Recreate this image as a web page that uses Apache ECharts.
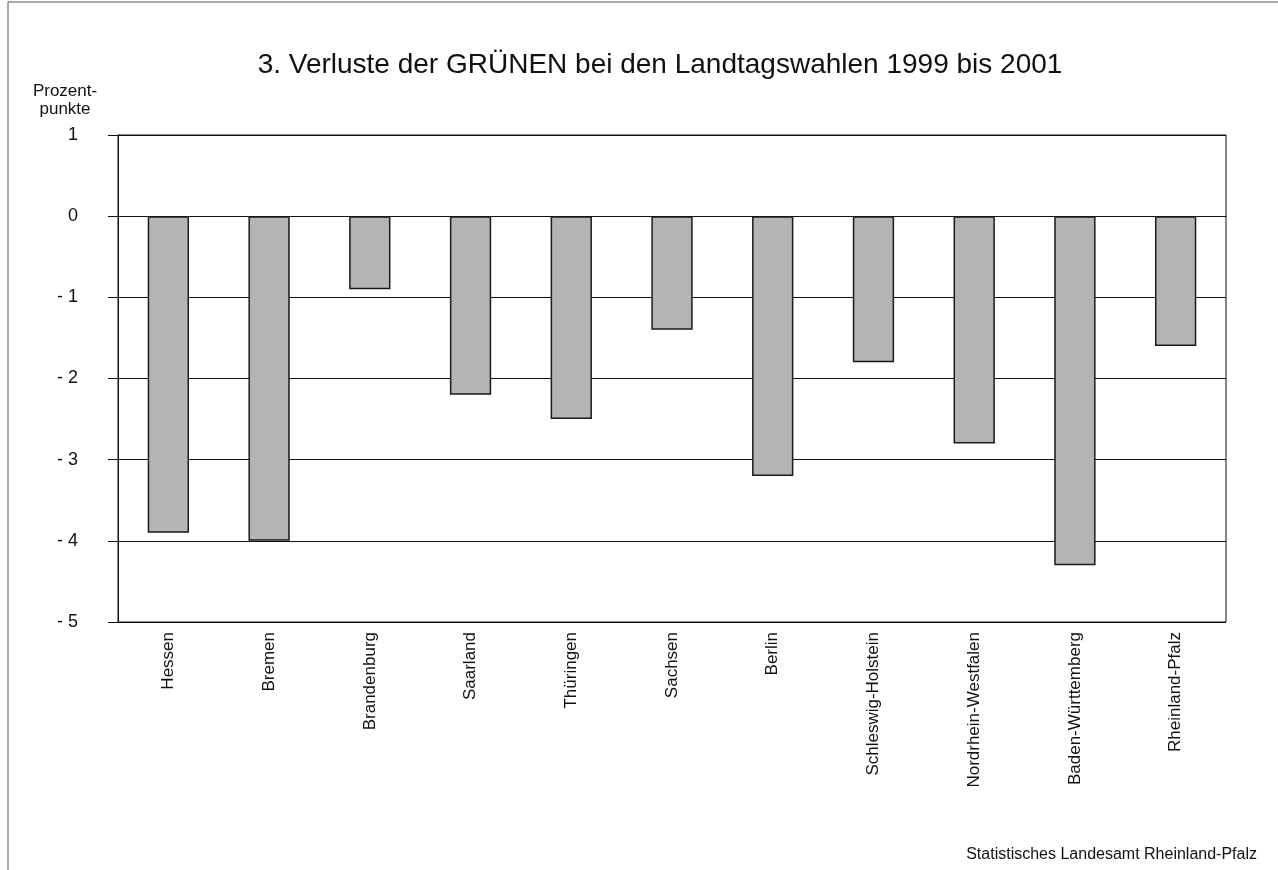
<!DOCTYPE html>
<html><head><meta charset="utf-8">
<script src="https://cdn.jsdelivr.net/npm/echarts@6/dist/echarts.min.js"></script>
<style>html,body{margin:0;padding:0;background:#fff}#c{width:1278px;height:870px}</style>
</head><body><div id="c"></div>
<script>
const categories = ['Hessen','Bremen','Brandenburg','Saarland','Thüringen','Sachsen','Berlin','Schleswig-Holstein','Nordrhein-Westfalen','Baden-Württemberg','Rheinland-Pfalz'];
const values = [-3.9, -4.0, -0.9, -2.2, -2.5, -1.4, -3.2, -1.8, -2.8, -4.3, -1.6];
const titleText = '3. Verluste der GRÜNEN bei den Landtagswahlen 1999 bis 2001';
const unitText = 'Prozent-\npunkte';
const sourceText = 'Statistisches Landesamt Rheinland-Pfalz';
const font = '"Liberation Sans", Arial, sans-serif';
const chart = echarts.init(document.getElementById('c'));
chart.setOption({
  backgroundColor: '#fff',
  animation: false,
  title: [
    {text: titleText, left: 655, top: 46, textAlign: 'center',
     textStyle: {fontFamily: font, fontSize: 28, fontWeight: 'normal', color: '#111'}},
    {text: unitText, left: 60, top: 77, textAlign: 'center',
     textStyle: {fontFamily: font, fontSize: 17, fontWeight: 'normal', color: '#111', lineHeight: 18}},
    {text: sourceText, right: 16, top: 842,
     textStyle: {fontFamily: font, fontSize: 16, fontWeight: 'normal', color: '#111'}}
  ],
  graphic: [
    {type: 'line', shape: {x1: 8, y1: 2, x2: 1278, y2: 2}, style: {stroke: '#555', lineWidth: 1}},
    {type: 'line', shape: {x1: 8, y1: 2, x2: 8, y2: 870}, style: {stroke: '#555', lineWidth: 1}}
  ],
  grid: {left: 118, right: 52, top: 135, bottom: 248, show: true, borderColor: '#111', borderWidth: 1, backgroundColor: 'transparent'},
  xAxis: {
    type: 'category', data: categories,
    axisLine: {show: true, lineStyle: {color: '#111', width: 1}},
    axisTick: {show: false},
    axisLabel: {rotate: 90, margin: 10, fontFamily: font, fontSize: 17, color: '#111', interval: 0}
  },
  yAxis: {
    type: 'value', min: -5, max: 1, interval: 1,
    axisLine: {show: true, lineStyle: {color: '#111', width: 1}},
    axisTick: {show: true, length: 10, lineStyle: {color: '#111'}},
    splitLine: {show: true, lineStyle: {color: '#111', width: 1}},
    axisLabel: {margin: 40, fontFamily: font, fontSize: 18, color: '#111',
      formatter: v => v < 0 ? '- ' + Math.abs(v) : String(v)}
  },
  series: [{
    type: 'bar', data: values, barWidth: '41%',
    itemStyle: {color: '#b4b4b4', borderColor: '#1a1a1a', borderWidth: 1.5}
  }]
});
</script></body></html>
